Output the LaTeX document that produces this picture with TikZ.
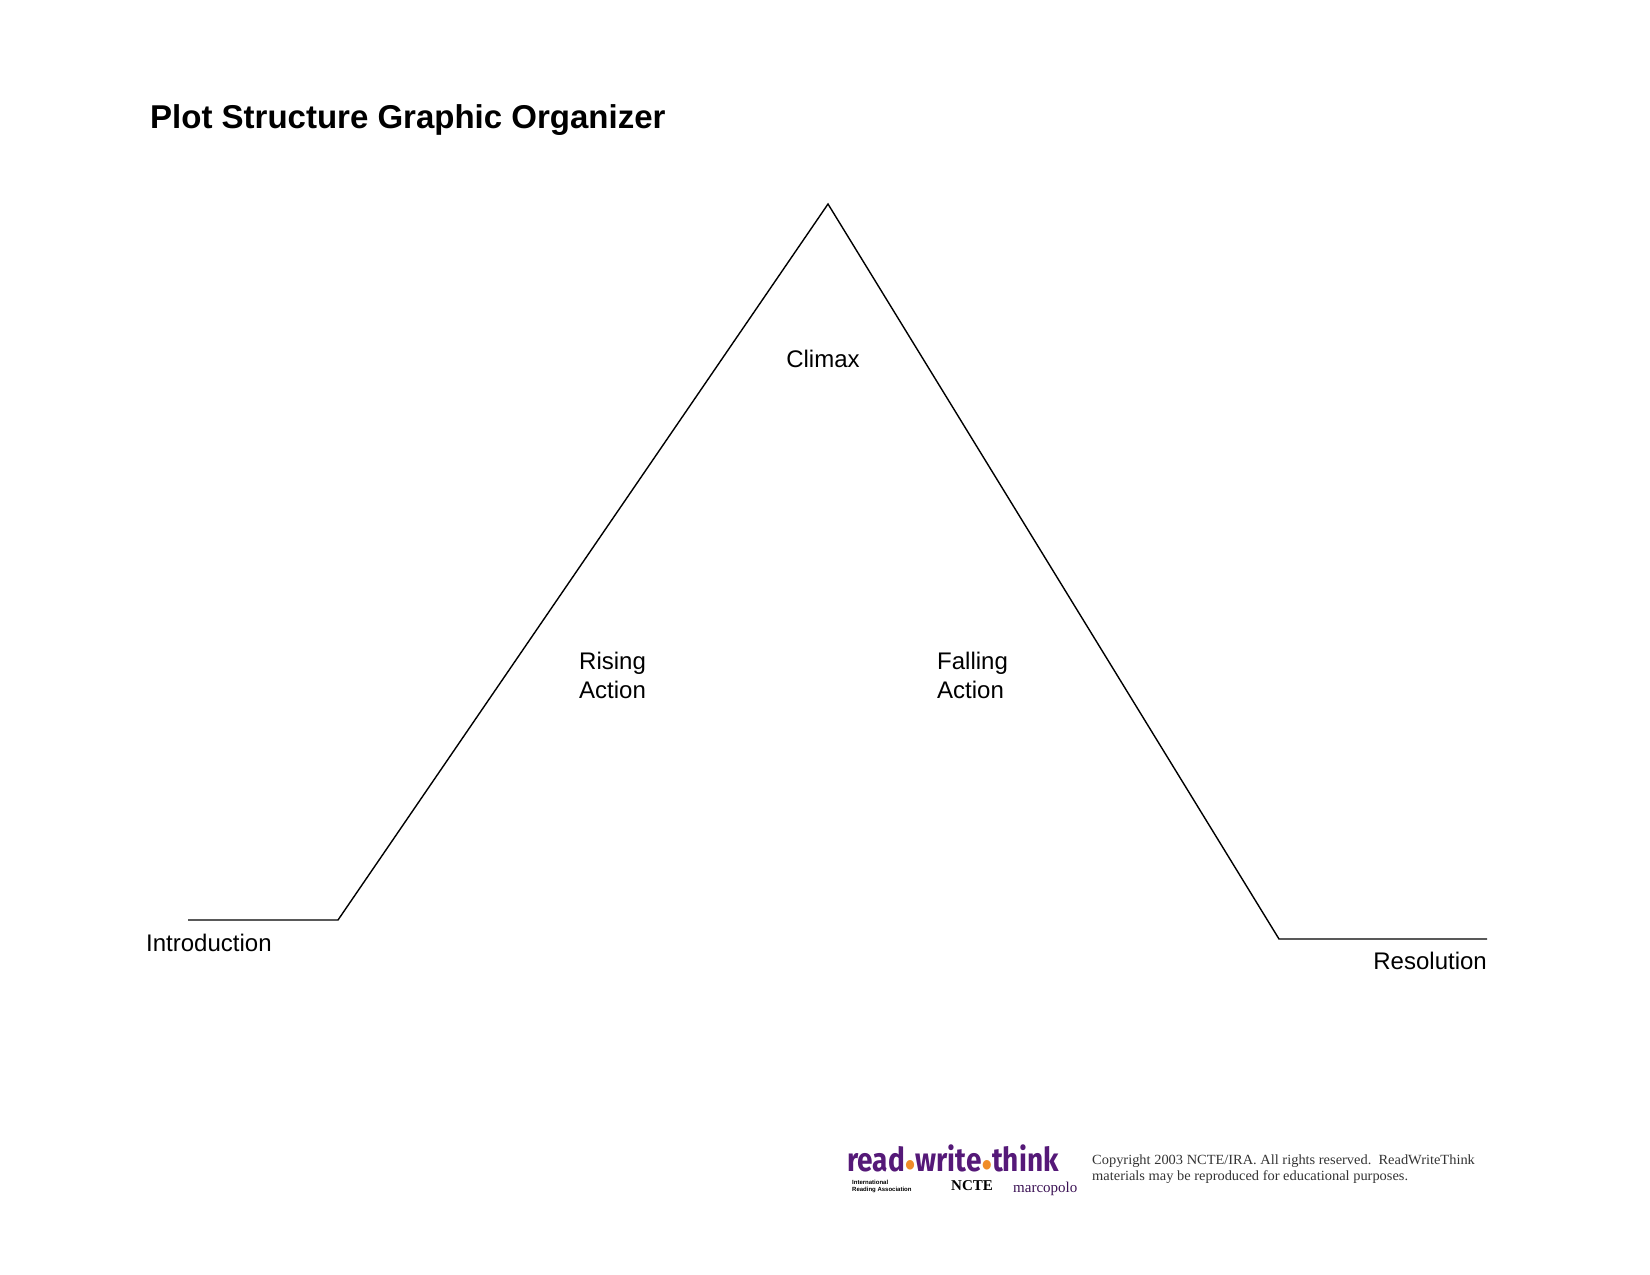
\documentclass[tikz,border=0pt]{standalone}
\usepackage{fontspec}
\setmainfont{Liberation Sans}
\newfontfamily\serifx{Liberation Serif}
\newfontfamily\logof{Fira Sans}
\definecolor{rwtpurple}{RGB}{85,25,120}
\definecolor{rwtorange}{RGB}{240,140,40}
\begin{document}
\begin{tikzpicture}[x=1pt,y=-1pt,
  lbl/.style={font=\fontsize{24}{29}\selectfont, inner sep=0pt, align=left},
  plotline/.style={line width=1.4pt, line join=miter}]
\useasboundingbox (0,0) rectangle (1650,1275);
\node[anchor=base west, inner sep=0pt, font=\bfseries\fontsize{33}{40}\selectfont] (title) at (150,128) {Plot Structure Graphic Organizer};
\coordinate (a) at (188,920);
\coordinate (b) at (338,920);
\coordinate (peak) at (828,204);
\coordinate (c) at (1279,939);
\coordinate (d) at (1487,939);
\draw[plotline] (a) -- (b) -- (peak) -- (c) -- (d);
\node[lbl] (climax) at (823,359) {Climax};
\node[lbl, anchor=west] (rising) at (579,675) {Rising\\Action};
\node[lbl, anchor=west] (falling) at (937,675) {Falling\\Action};
\node[lbl, anchor=west] (intro) at (146,943) {Introduction};
\node[lbl, anchor=east] (resol) at (1487,961) {Resolution};
\node[anchor=base west, inner sep=0pt, text=rwtpurple, xscale=0.85, font=\logof\bfseries\fontsize{33}{33}\selectfont] (logo) at (847,1171) {read\textcolor{rwtorange}{$\bullet$}write\textcolor{rwtorange}{$\bullet$}think};
\node[anchor=north west, inner sep=0pt, font=\fontsize{6}{6.5}\selectfont\bfseries] (ira) at (852,1180) {\shortstack[l]{International\\Reading Association}};
\node[anchor=north west, inner sep=0pt, font=\serifx\bfseries\fontsize{15}{15}\selectfont] (ncte) at (951,1180) {NCTE};
\node[anchor=north west, inner sep=0pt, text=rwtpurple!70!black, font=\serifx\fontsize{15}{15}\selectfont] (mp) at (1013,1182) {marcopolo};
\node[anchor=north west, inner sep=0pt, align=left, text=black!80, xscale=1.03, font=\serifx\fontsize{14}{16}\selectfont] (copy) at (1092,1155) {Copyright 2003 NCTE/IRA. All rights reserved.\ \ ReadWriteThink\\materials may be reproduced for educational purposes.};
\end{tikzpicture}
\end{document}
